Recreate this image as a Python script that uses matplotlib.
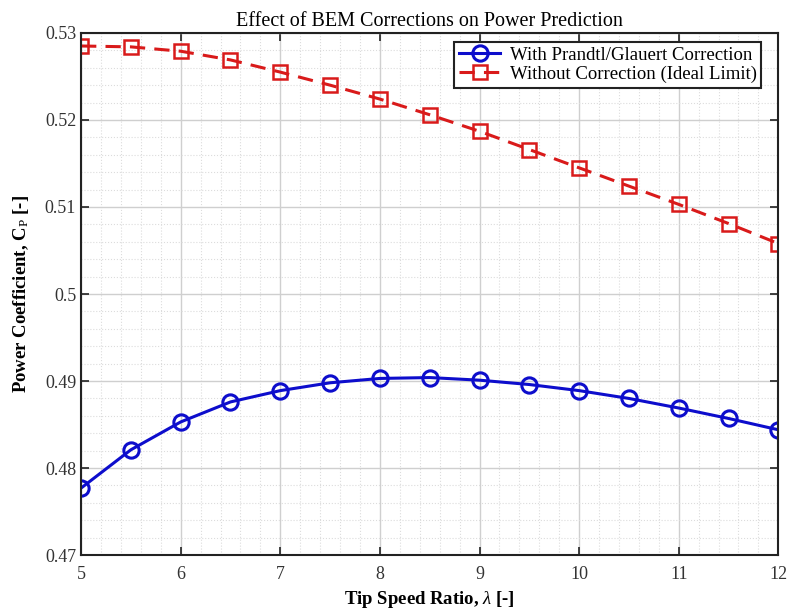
import numpy as np
import matplotlib.pyplot as plt
from matplotlib.ticker import MultipleLocator

# ============ Data ============

tsr = [5, 5.5, 6, 6.5, 7, 7.5, 8, 8.5, 9, 9.5, 10, 10.5, 11, 11.5, 12]

cp_corrected = [0.4777, 0.4821, 0.4853, 0.4876, 0.4889, 0.4898, 0.4903, 0.4904,
                0.4901, 0.4896, 0.4889, 0.4880, 0.4869, 0.4857, 0.4844]

cp_ideal = [0.5285, 0.5284, 0.5279, 0.5269, 0.5255, 0.5240, 0.5224, 0.5206,
            0.5187, 0.5166, 0.5145, 0.5124, 0.5103, 0.5081, 0.5058]

y_ticks = [0.47, 0.48, 0.49, 0.5, 0.51, 0.52, 0.53]
y_tick_labels = ['0.47', '0.48', '0.49', '0.5', '0.51', '0.52', '0.53']

# ============ Style ============

plt.rcParams['font.family'] = ['Liberation Serif', 'DejaVu Serif']
plt.rcParams['mathtext.fontset'] = 'custom'
plt.rcParams['mathtext.rm'] = 'Liberation Serif'
plt.rcParams['mathtext.it'] = 'Liberation Serif:italic'
plt.rcParams['mathtext.bf'] = 'Liberation Serif:bold'

blue = (0.05, 0.05, 0.8)
red = (0.85, 0.1, 0.1)

fig = plt.figure(figsize=(7.87, 6.10), dpi=100)
ax = fig.add_axes([0.103, 0.090, 0.886, 0.856])

ax.plot(tsr, cp_corrected, '-o', color=blue, lw=2.2, ms=11, mew=2.2,
        mfc='none', label='With Prandtl/Glauert Correction')
ax.plot(tsr, cp_ideal, '--s', color=red, lw=2.2, ms=9.5, mew=1.8,
        mfc='none', dashes=(5, 3), label='Without Correction (Ideal Limit)')

ax.set_xlim(5, 12)
ax.set_ylim(0.47, 0.53)
ax.xaxis.set_major_locator(MultipleLocator(1))
ax.xaxis.set_minor_locator(MultipleLocator(0.2))
ax.yaxis.set_minor_locator(MultipleLocator(0.002))
ax.set_yticks(y_ticks)
ax.set_yticklabels(y_tick_labels)

# ============ Title and Axis Label ============

ax.set_title('Effect of BEM Corrections on Power Prediction', fontsize=14.5, pad=5)
ax.set_xlabel(r'Tip Speed Ratio, $\mathit{\lambda}$ [-]', fontsize=13.5,
              fontweight='bold', labelpad=4)
ax.set_ylabel(r'Power Coefficient, C$_\mathrm{P}$ [-]', fontsize=13.5,
              fontweight='bold', labelpad=10)

ax.tick_params(axis='both', which='major', direction='in', length=6, width=1.2,
               labelsize=13, top=True, right=True, colors='#222222', labelcolor='#333333')
ax.tick_params(axis='both', which='minor', length=0)
ax.tick_params(axis='x', pad=8)
for s in ax.spines.values():
    s.set_linewidth(1.5)
    s.set_color('#222222')

ax.grid(True, which='major', color='#cfcfcf', lw=1.0)
ax.grid(True, which='minor', color='#dcdcdc', lw=0.8, linestyle=':')
ax.set_axisbelow(True)

leg = ax.legend(loc='upper right', bbox_to_anchor=(0.9756, 0.983), borderaxespad=0,
                fontsize=13.5, fancybox=False, framealpha=1, edgecolor='#222222',
                handlelength=2.2, handletextpad=0.5, borderpad=0.25, labelspacing=0.1)
leg.get_frame().set_linewidth(1.5)

fig.savefig('out.png', dpi=100)
